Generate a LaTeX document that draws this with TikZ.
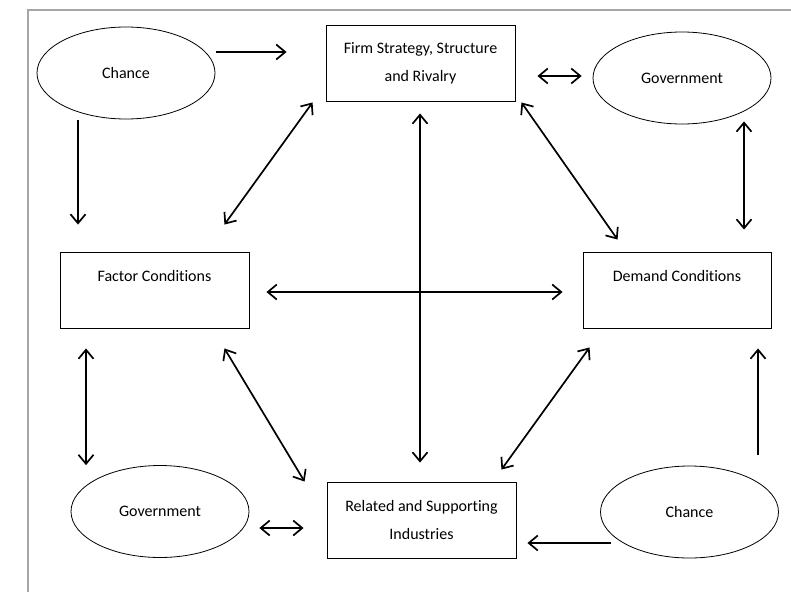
\documentclass[tikz,border=0pt]{standalone}
\usepackage{fontspec}
\setmainfont{Carlito}[Ligatures=NoCommon]
\usetikzlibrary{arrows.meta,calc,shapes.geometric}

\tikzset{
  oval/.style={ellipse, draw, line width=0.8pt, inner sep=0pt,
    minimum width=178pt, minimum height=92pt, font=\fontsize{16}{28}\selectfont},
  block/.style={rectangle, draw, line width=0.9pt, inner sep=0pt, align=center,
    minimum width=189pt, minimum height=76pt, font=\fontsize{16}{28}\selectfont},
  arr/.style={line width=1.7pt, -{Straight Barb[length=9pt,width=15pt,line width=1.7pt]}},
  dbl/.style={line width=1.7pt, {Straight Barb[length=9pt,width=15pt,line width=1.7pt]}-{Straight Barb[length=9pt,width=15pt,line width=1.7pt]}},
  frame/.style={draw=black!35, line width=1.4pt}
}

\begin{document}
\begin{tikzpicture}[x=1pt,y=-1pt]
  \useasboundingbox (0,0) rectangle (791,592);
  \draw[frame] (28,592) -- (28,10) -- (791,10);

  % boxes and ovals
  \node[oval]  (chanceA) at (126,73)     {Chance};
  \node[block] (firm)    at (420.5,63)   {Firm Strategy, Structure\\and Rivalry};
  \node[oval]  (govA)    at (682,78)     {Government};
  \node[block] (factor)  at (154.5,290)  {Factor Conditions\\\mbox{}};
  \node[block, minimum width=188pt] (demand) at (677,290) {Demand Conditions\\\mbox{}};
  \node[oval]  (govB)    at (160,511.5)  {Government};
  \node[block] (related) at (421.5,520)  {Related and Supporting\\Industries};
  \node[oval]  (chanceB) at (689.5,512)  {Chance};

  % one-way influences
  \draw[arr] ($(chanceA.east)+(1,-21)$) -- ($(firm.west)+(-39,-11)$);
  \draw[arr] ($(chanceA.south)+(-48,1)$) -- ($(factor.north)+(-76.5,-27)$);
  \draw[arr] ($(chanceB.north)+(68.5,-11)$) -- ($(demand.south)+(81,20)$);
  \draw[arr] ($(chanceB.west)+(11,31)$) -- ($(related.east)+(11,23)$);

  % two-way influences
  \draw[dbl] ($(firm.east)+(22,13)$) -- ($(govA.west)+(-11,-2)$);
  \draw[dbl] ($(factor.north east)+(-25,-27)$) -- ($(firm.south west)+(-13,1)$);
  \draw[dbl] ($(firm.south east)+(6,1)$) -- ($(demand.north west)+(35,-12)$);
  \draw[dbl] ($(govA.south)+(62,-3)$) -- ($(demand.north)+(67,-22)$);
  \draw[dbl] ($(factor.east)+(17,2)$) -- ($(demand.west)+(-20,2)$);
  \draw[dbl] ($(firm.south)+(-0.5,12)$) -- ($(related.north)+(-1.5,-19)$);
  \draw[dbl] ($(factor.south)+(-68.5,20)$) -- ($(govB.north)+(-74,0)$);
  \draw[dbl] ($(factor.south east)+(-25,20)$) -- ($(related.north west)+(-22,0)$);
  \draw[dbl] ($(demand.south west)+(7,19)$) -- ($(related.north east)+(-15,-12)$);
  \draw[dbl] ($(govB.east)+(10,16.5)$) -- ($(related.west)+(-23,8)$);
\end{tikzpicture}
\end{document}
